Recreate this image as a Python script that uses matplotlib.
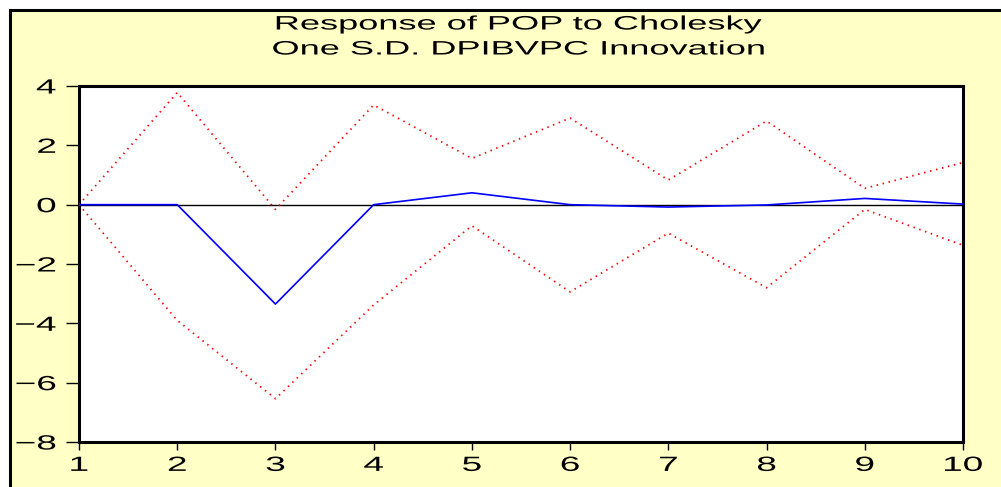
import matplotlib
matplotlib.use("Agg")
import matplotlib.pyplot as plt
from matplotlib.patches import Rectangle
from matplotlib.patheffects import AbstractPathEffect
from matplotlib.transforms import Affine2D

# Impulse response of POP to a one S.D. DPIBVPC shock, with +/- 2 S.E. bands
periods = [1, 2, 3, 4, 5, 6, 7, 8, 9, 10]
response = [0.0, 0.0, -3.35, 0.0, 0.40, 0.0, -0.08, -0.01, 0.21, 0.02]
upper_band = [0.0, 3.78, -0.16, 3.36, 1.56, 2.92, 0.83, 2.82, 0.55, 1.42]
lower_band = [0.0, -3.90, -6.54, -3.38, -0.71, -2.94, -0.96, -2.80, -0.16, -1.37]
y_ticks = [-8, -6, -4, -2, 0, 2, 4]
title_lines = ["Response of POP to Cholesky", "One S.D. DPIBVPC Innovation"]

W, H = 1001, 487
BG = "#FFFFC6"


class Stretch(AbstractPathEffect):
    """Widen glyphs horizontally about a chosen anchor of the text."""

    def __init__(self, sx, anchor="center"):
        super().__init__()
        self.sx = sx
        self.anchor = anchor

    def draw_path(self, renderer, gc, tpath, affine, rgbFace=None):
        ext = tpath.get_extents()
        if self.anchor == "right":
            cx = ext.x1
        elif self.anchor == "left":
            cx = ext.x0
        else:
            cx = 0.5 * (ext.x0 + ext.x1)
        t = Affine2D().translate(-cx, 0).scale(self.sx, 1).translate(cx, 0) + affine
        renderer.draw_path(gc, tpath, t, rgbFace)


plt.rcParams["font.family"] = ["Liberation Sans", "DejaVu Sans"]

fig = plt.figure(figsize=(W / 100, H / 100), dpi=100, facecolor="white")

# yellow panel with black frame
panel = Rectangle((10 / W, -0.1), 1.2, 1 - 10 / H + 0.1,
                  transform=fig.transFigure, facecolor=BG,
                  edgecolor="black", linewidth=2.2, zorder=-10)
fig.patches.append(panel)

ax = fig.add_axes([79 / W, 1 - 442 / H, (963 - 79) / W, (442 - 86) / H])
ax.set_zorder(5)
ax.set_facecolor("white")

ax.axhline(0, color="black", linewidth=1.0, zorder=2)
ax.plot(periods, upper_band, color="#FF0000", linewidth=1.3,
        linestyle=(0, (0.8, 2.6)), zorder=3)
ax.plot(periods, lower_band, color="#FF0000", linewidth=1.3,
        linestyle=(0, (0.8, 2.6)), zorder=3)
ax.plot(periods, response, color="#0000FF", linewidth=1.2, zorder=4)

ax.set_xlim(1, 10)
ax.set_ylim(-8, 4)
ax.set_xticks(periods)
ax.set_yticks(y_ticks)

for s in ax.spines.values():
    s.set_linewidth(2.2)
    s.set_color("black")

ax.tick_params(axis="y", direction="out", length=9.5, width=1.0,
               labelsize=14.8, pad=7, colors="black")
ax.tick_params(axis="x", direction="out", length=6, width=1.0,
               labelsize=14.8, pad=4, colors="black")

for lab in ax.get_yticklabels():
    lab.set_path_effects([Stretch(1.8, "right")])
for lab in ax.get_xticklabels():
    lab.set_path_effects([Stretch(1.8, "center")])

ys = [1 - 25 / H, 1 - 50 / H]
for txt, yy in zip(title_lines, ys):
    fig.text(519 / W, yy, txt, ha="center", va="center", fontsize=14,
             color="black", path_effects=[Stretch(1.86, "center")])

fig.savefig("out.png", dpi=100, facecolor=fig.get_facecolor())
